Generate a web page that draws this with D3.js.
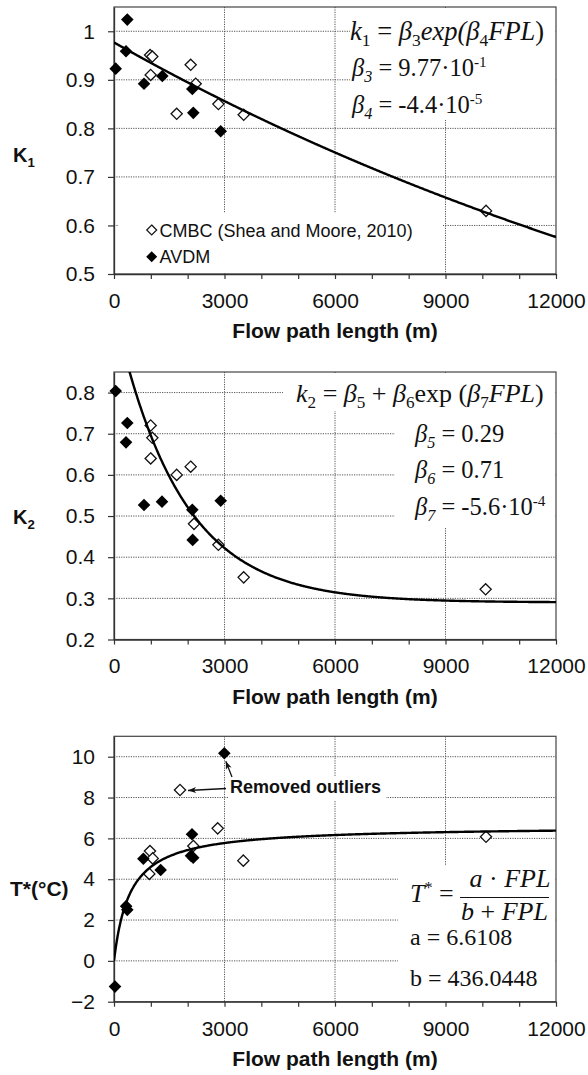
<!DOCTYPE html>
<html>
<head>
<meta charset="utf-8">
<script src="https://cdn.jsdelivr.net/npm/d3@7"></script>
<style>
  body { margin: 0; background: #fff; }
  svg { display: block; }
</style>
</head>
<body>
<svg id="fig" width="588" height="1075"></svg>
<script>
// ---- Flow path length axis (m) ----
const fplTicks = [0, 3000, 6000, 9000, 12000];
const fplMinorTicks = d3.range(0, 12001, 1000);
const fplGrid = [3000, 6000, 9000];

// ---- K1 panel ----
const k1Ticks = [0.5, 0.6, 0.7, 0.8, 0.9, 1.0];
const k1Cmbc = [[980, 0.951], [1040, 0.948], [996, 0.910], [1702, 0.830], [2082, 0.931],
                [2218, 0.892], [2834, 0.850], [3521, 0.828], [10100, 0.630]];
const k1Avdm = [[46, 0.923], [361, 1.024], [326, 0.959], [815, 0.892], [1312, 0.908],
                [2126, 0.881], [2153, 0.832], [2897, 0.794]];
const k1Fit = [0.977, -4.4e-5];            // beta3, beta4

// ---- K2 panel ----
const k2Ticks = [0.2, 0.3, 0.4, 0.5, 0.6, 0.7, 0.8];
const k2Cmbc = [[996, 0.720], [1041, 0.690], [996, 0.640], [1702, 0.600], [2082, 0.620],
                [2172, 0.481], [2834, 0.430], [3521, 0.351], [10090, 0.322]];
const k2Avdm = [[46, 0.804], [361, 0.726], [326, 0.679], [815, 0.527], [1303, 0.535],
                [2126, 0.515], [2136, 0.442], [2897, 0.537]];
const k2Fit = [0.29, 0.71, -5.6e-4];       // beta5, beta6, beta7

// ---- T* panel ----
const tTicks = [-2, 0, 2, 4, 6, 8, 10];
const tCmbc = [[1792, 8.37], [977, 5.38], [1050, 5.02], [959, 4.26], [2153, 5.63],
               [2815, 6.49], [3511, 4.91], [10100, 6.08]];
const tAvdm = [[2995, 10.17], [797, 5.0], [1267, 4.45], [330, 2.68], [361, 2.50],
               [2118, 6.20], [2090, 5.15], [2150, 5.05], [27, -1.26]];
const tFit = [6.6108, 436.0448];           // a, b

const legendLabels = ["CMBC (Shea and Moore, 2010)", "AVDM"];

// ---- layout ----
const L = 114, R = 556;
const SANS = "'Liberation Sans', Arial, sans-serif";
const SERIF = "'Liberation Serif', 'Times New Roman', serif";
const svg = d3.select("#fig");
const x = d3.scaleLinear().domain([0, 12000]).range([L, R]);

const defs = svg.append("defs");
defs.append("marker")
  .attr("id", "arrowHead").attr("viewBox", "0 0 10 10")
  .attr("refX", 10).attr("refY", 5)
  .attr("markerUnits", "userSpaceOnUse")
  .attr("markerWidth", 11).attr("markerHeight", 8)
  .attr("orient", "auto")
  .append("path").attr("d", "M0,1.2L10,5L0,8.8L2.5,5Z").attr("fill", "#111");

function diamond(r) { return `M0,${-r}L${r},0L0,${r}L${-r},0Z`; }

// Text built from runs: flags "i" italic, "sub", "sup", "b" bold
function richText(g, px, py, runs, size, family, anchor) {
  const t = g.append("text").attr("x", px).attr("y", py)
    .attr("font-family", family).attr("font-size", size)
    .attr("text-anchor", anchor || "start").attr("fill", "#111");
  let shift = 0;
  runs.forEach(([s, flags]) => {
    const f = (flags || "").split(" ");
    const sp = t.append("tspan").text(s);
    let target = 0, fs = size;
    if (f.includes("sub")) { target = size * 0.24; fs = size * 0.66; }
    if (f.includes("sup")) { target = -size * 0.36; fs = size * 0.62; }
    sp.attr("dy", target - shift).attr("font-size", fs);
    if (f.includes("i")) sp.attr("font-style", "italic");
    if (f.includes("b")) sp.attr("font-weight", "bold");
    shift = target;
  });
  return t;
}

function drawPanel(cfg, idx) {
  const g = svg.append("g");
  const y = d3.scaleLinear().domain(cfg.yDomain).range([cfg.bottom, cfg.top]);
  const clipId = "clip" + idx;
  defs.append("clipPath").attr("id", clipId).append("rect")
    .attr("x", L).attr("y", cfg.top).attr("width", R - L).attr("height", cfg.bottom - cfg.top);

  // dotted grid
  const grid = g.append("g").attr("stroke", "#555").attr("stroke-width", 1)
    .attr("stroke-dasharray", "1.2,1.2");
  grid.selectAll("line.h").data(cfg.yTicks.filter(v => v !== cfg.yDomain[0])).join("line")
    .attr("x1", L).attr("x2", R).attr("y1", d => y(d)).attr("y2", d => y(d));
  grid.selectAll("line.v").data(fplGrid).join("line")
    .attr("x1", d => x(d)).attr("x2", d => x(d)).attr("y1", cfg.top).attr("y2", cfg.bottom);

  // text-box backgrounds
  g.selectAll("rect.box").data(cfg.boxes).join("rect")
    .attr("x", d => d[0]).attr("y", d => d[1]).attr("width", d => d[2] - d[0])
    .attr("height", d => d[3] - d[1]).attr("fill", "#fff");

  // plot frame
  g.append("rect").attr("x", L).attr("y", cfg.top).attr("width", R - L)
    .attr("height", cfg.bottom - cfg.top).attr("fill", "none")
    .attr("stroke", "#444").attr("stroke-width", 1.2);

  // axes
  const xa = g.append("g").attr("transform", `translate(0,${cfg.bottom})`)
    .call(d3.axisBottom(x).tickValues(fplMinorTicks).tickSize(5).tickSizeOuter(0).tickPadding(14)
      .tickFormat(d => fplTicks.includes(d) ? String(d) : ""));
  const ya = g.append("g").attr("transform", `translate(${L},0)`)
    .call(d3.axisLeft(y).tickValues(cfg.yTicks).tickSize(6).tickSizeOuter(0).tickPadding(13)
      .tickFormat(cfg.fmt));
  [xa, ya].forEach(a => {
    a.selectAll("path.domain").attr("stroke", "#333").attr("stroke-width", 1.3);
    a.selectAll(".tick line").attr("stroke", "#333").attr("stroke-width", 1.2);
    a.selectAll("text").attr("font-family", SANS).attr("font-size", 21).attr("fill", "#111");
  });

  // x-axis title
  g.append("text").attr("x", (L + R) / 2).attr("y", cfg.bottom + 64)
    .attr("text-anchor", "middle").attr("font-family", SANS).attr("font-weight", "bold")
    .attr("font-size", 21).attr("fill", "#111").text("Flow path length (m)");

  // y-axis title
  richText(g, cfg.yLabelX, cfg.yLabelY, cfg.yLabel, cfg.yLabelSize, SANS);

  // markers: CMBC (open), AVDM (filled)
  const pts = g.append("g");
  pts.selectAll("path.cmbc").data(cfg.cmbc).join("path")
    .attr("d", diamond(5.6))
    .attr("transform", d => `translate(${x(d[0])},${y(d[1])})`)
    .attr("fill", "#fff").attr("stroke", "#111").attr("stroke-width", 1.3);
  pts.selectAll("path.avdm").data(cfg.avdm).join("path")
    .attr("d", diamond(6.3))
    .attr("transform", d => `translate(${x(d[0])},${y(d[1])})`)
    .attr("fill", "#000");

  // fitted curve
  const xs = d3.range(0, 12001, 20);
  g.append("path").attr("clip-path", `url(#${clipId})`)
    .datum(xs.map(v => [v, cfg.fit(v)]))
    .attr("d", d3.line().x(d => x(d[0])).y(d => y(d[1])))
    .attr("fill", "none").attr("stroke", "#000").attr("stroke-width", 2.4);

  cfg.extra(g, y);
}

const panels = [
  {
    top: 7, bottom: 274, yDomain: [0.5, 1.05], yTicks: k1Ticks,
    fmt: d => d === 1 ? "1" : d3.format(".1f")(d),
    cmbc: k1Cmbc, avdm: k1Avdm,
    fit: v => k1Fit[0] * Math.exp(k1Fit[1] * v),
    boxes: [[350, 8, 555, 120], [118, 213, 443, 273]],
    yLabel: [["K", "b"], ["1", "b sub"]], yLabelX: 13, yLabelY: 162, yLabelSize: 20,
    extra: (g) => {
      richText(g, 350, 40, [["k", "i"], ["1", "sub"], [" = ", ""], ["β", "i"], ["3", "sub"],
        ["exp(", "i"], ["β", "i"], ["4", "sub"], ["FPL", "i"], [")", ""]], 26.5, SERIF);
      richText(g, 352, 76, [["β", "i"], ["3", "i sub"], [" = 9.77·10", ""], ["-1", "sup"]], 24.5, SERIF);
      richText(g, 352, 113, [["β", "i"], ["4", "i sub"], [" = -4.4·10", ""], ["-5", "sup"]], 24.5, SERIF);
      // legend
      const lg = g.append("g");
      lg.append("path").attr("d", diamond(5)).attr("transform", "translate(151.7,230)")
        .attr("fill", "#fff").attr("stroke", "#111").attr("stroke-width", 1.2);
      lg.append("path").attr("d", diamond(5.5)).attr("transform", "translate(151.7,256.7)")
        .attr("fill", "#000");
      lg.selectAll("text").data(legendLabels).join("text")
        .attr("x", 159.5).attr("y", (d, i) => 236.6 + i * 26.7)
        .attr("font-family", SANS).attr("font-size", 18).attr("fill", "#111").text(d => d);
    }
  },
  {
    top: 372, bottom: 639.5, yDomain: [0.2, 0.85], yTicks: k2Ticks,
    fmt: d3.format(".1f"),
    cmbc: k2Cmbc, avdm: k2Avdm,
    fit: v => k2Fit[0] + k2Fit[1] * Math.exp(k2Fit[2] * v),
    boxes: [[283, 373, 555, 411], [395, 411, 555, 528]],
    yLabel: [["K", "b"], ["2", "b sub"]], yLabelX: 13, yLabelY: 524, yLabelSize: 20,
    extra: (g) => {
      richText(g, 296, 402, [["k", "i"], ["2", "sub"], [" = ", ""], ["β", "i"], ["5", "sub"],
        [" + ", ""], ["β", "i"], ["6", "sub"], ["exp (", ""], ["β", "i"], ["7", "sub"],
        ["FPL", "i"], [")", ""]], 26, SERIF);
      richText(g, 415, 441.7, [["β", "i"], ["5", "i sub"], [" = 0.29", ""]], 24.5, SERIF);
      richText(g, 415, 478.3, [["β", "i"], ["6", "i sub"], [" = 0.71", ""]], 24.5, SERIF);
      richText(g, 415, 515, [["β", "i"], ["7", "i sub"], [" = -5.6·10", ""], ["-4", "sup"]], 24.5, SERIF);
    }
  },
  {
    top: 736.3, bottom: 1001.7, yDomain: [-2, 11], yTicks: tTicks,
    fmt: d3.format("d"),
    cmbc: tCmbc, avdm: tAvdm,
    fit: v => tFit[0] * v / (tFit[1] + v),
    boxes: [[229, 776, 386, 800], [398, 866, 555, 1001]],
    yLabel: [["T*(°C)", "b"]], yLabelX: 10, yLabelY: 895.5, yLabelSize: 21,
    extra: (g, y) => {
      // annotation for the two excluded points
      g.append("text").attr("x", 230).attr("y", 793)
        .attr("font-family", SANS).attr("font-weight", "bold").attr("font-size", 18)
        .attr("fill", "#111").text("Removed outliers");
      const o1 = tCmbc[0], o2 = tAvdm[0];
      g.append("line").attr("x1", 226).attr("y1", 788.5)
        .attr("x2", x(o1[0]) + 8).attr("y2", y(o1[1]) + 0.5)
        .attr("stroke", "#111").attr("stroke-width", 1.3).attr("marker-end", "url(#arrowHead)");
      g.append("line").attr("x1", 232).attr("y1", 777)
        .attr("x2", x(o2[0]) + 1.5).attr("y2", y(o2[1]) + 8)
        .attr("stroke", "#111").attr("stroke-width", 1.3).attr("marker-end", "url(#arrowHead)");
      // fitted equation
      richText(g, 410, 902, [["T", "i"], ["*", "sup"], [" = ", ""]], 26, SERIF);
      g.append("line").attr("x1", 460).attr("x2", 549).attr("y1", 897.5).attr("y2", 897.5)
        .attr("stroke", "#111").attr("stroke-width", 1.2);
      richText(g, 510, 887, [["a", "i"], [" · ", ""], ["FPL", "i"]], 26, SERIF, "middle");
      richText(g, 504.5, 920, [["b", "i"], [" + ", ""], ["FPL", "i"]], 26, SERIF, "middle");
      richText(g, 410, 945, [["a = 6.6108", ""]], 24, SERIF);
      richText(g, 410, 986, [["b = 436.0448", ""]], 24, SERIF);
    }
  }
];

panels.forEach(drawPanel);
</script>
</body>
</html>
